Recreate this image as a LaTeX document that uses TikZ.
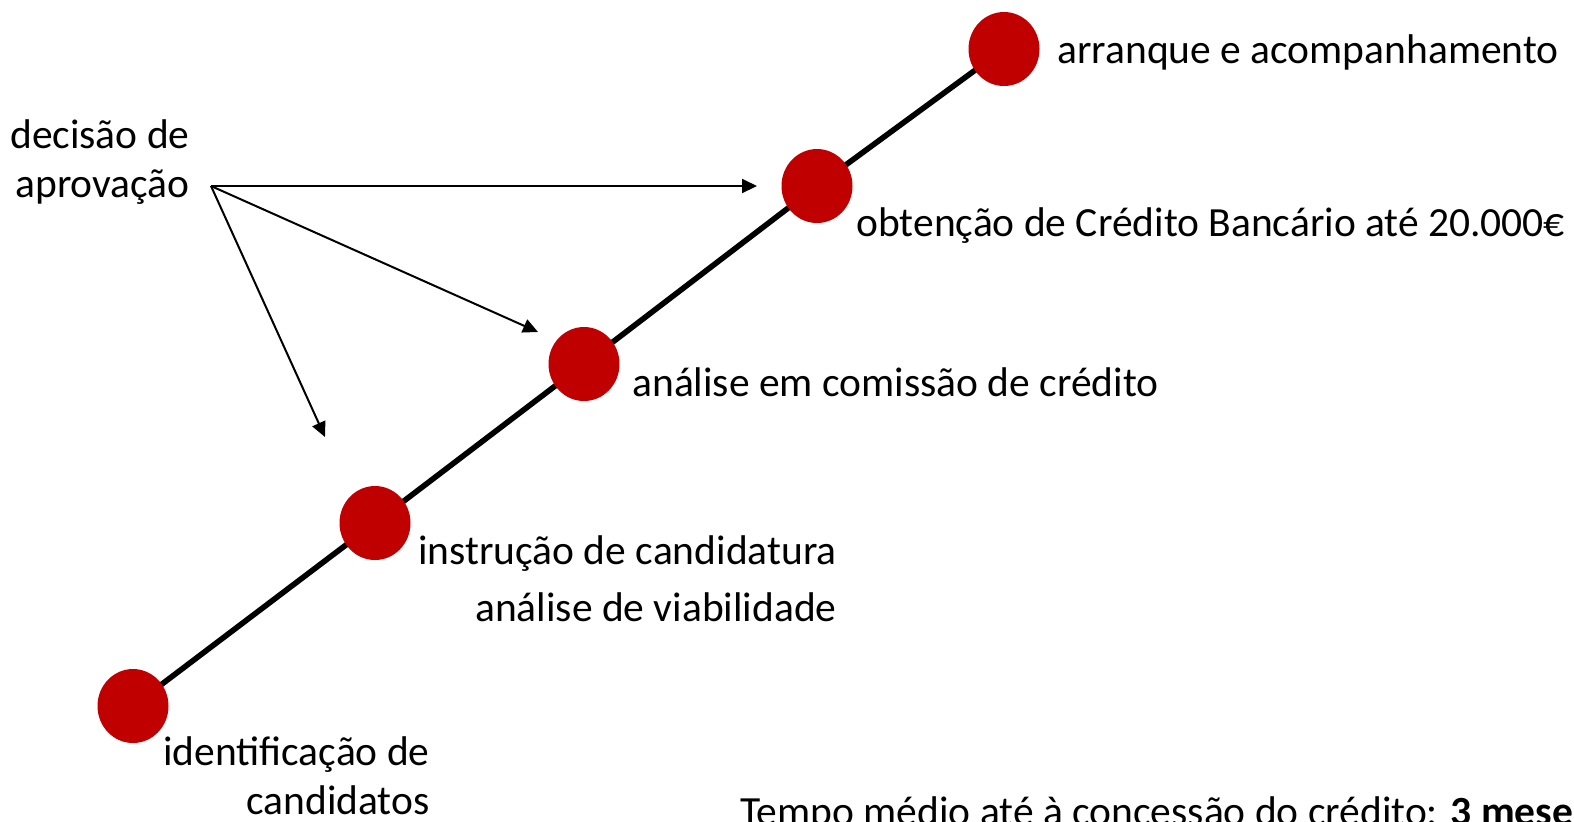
\documentclass[tikz,border=0pt]{standalone}
\usepackage{fontspec}
\setmainfont{Carlito}
\usetikzlibrary{arrows.meta,shapes.geometric,backgrounds}
\definecolor{dotred}{RGB}{192,0,0}
\tikzset{
  stepdot/.style={ellipse,fill=dotred,draw=none,inner sep=0pt,minimum width=35.5pt,minimum height=37pt},
  lbl/.style={inner sep=0pt,font=\fontsize{20.75}{24.9}\selectfont},
  track/.style={line width=2.8pt,black},
  pointer/.style={line width=1pt,-{Triangle[length=7.5pt,width=7pt]}}
}
\begin{document}
\begin{tikzpicture}[x=0.5pt,y=-0.5pt]
\useasboundingbox (0,0) rectangle (1574,821);
\node[stepdot] (d1) at (133,706) {};
\node[stepdot] (d2) at (375,523) {};
\node[stepdot] (d3) at (584,364) {};
\node[stepdot] (d4) at (817,186) {};
\node[stepdot] (d5) at (1004,49) {};
\begin{scope}[on background layer]
\draw[track] (d1.center) -- (d2.center) -- (d3.center) -- (d4.center) -- (d5.center);
\end{scope}
\node[lbl,anchor=base west] (t5) at (1057,63) {arranque e acompanhamento};
\node[lbl,anchor=base west] (t4) at (856,236) {obtenção de Crédito Bancário até 20.000€};
\node[lbl,anchor=base west] (t3) at (632,396) {análise em comissão de crédito};
\node[lbl,anchor=base east] (t2a) at (837,564) {instrução de candidatura};
\node[lbl,anchor=base east] (t2b) at (837,621) {análise de viabilidade};
\node[lbl,anchor=base east] (t1a) at (430,765) {identificação de};
\node[lbl,anchor=base east] (t1b) at (430,814) {candidatos};
\node[lbl,anchor=base east] (tda) at (190,148) {decisão de};
\node[lbl,anchor=base east] (tdb) at (190,197) {aprovação};
\node[lbl,anchor=base west] (tempo) at (740,825) {Tempo médio até à concessão do crédito: \textbf{3 meses}};
\coordinate (src) at (211,186);
\coordinate (e1) at (757,186);
\coordinate (e2) at (538,332);
\coordinate (e3) at (325,437);
\draw[pointer] (src) -- (e1);
\draw[pointer] (src) -- (e2);
\draw[pointer] (src) -- (e3);
\end{tikzpicture}
\end{document}
